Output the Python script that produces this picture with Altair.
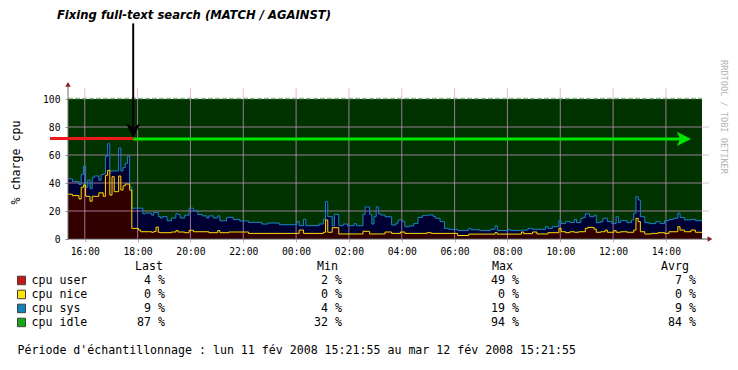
import altair as alt
import pandas as pd

# ---------------- data ----------------
# sampling period: lun 11 fév 2008 15:21:55 -> mar 12 fév 2008 15:21:55 (hours since 11 Feb 00:00)
START = 15 + 21 / 60 + 55 / 3600
END = START + 24

# top of user+nice+sys stack (%), change points in minutes since START
total_min = [0, 10, 25, 30, 35, 40, 45, 50, 55, 60, 70, 75, 80, 85, 90, 95, 115, 120, 125, 130,
             135, 140, 145, 170, 175, 190, 195, 205, 210, 215, 225, 235, 245, 250, 255, 265, 275,
             285, 295, 305, 315, 320, 330, 340, 345, 360, 375, 390, 410, 440, 455, 480, 520, 525,
             535, 540, 570, 580, 585, 590, 600, 605, 615, 625, 635, 650, 655, 670, 675, 685, 690,
             695, 700, 705, 710, 720, 735, 745, 750, 760, 765, 775, 785, 795, 805, 815, 830, 835,
             845, 855, 865, 885, 910, 915, 935, 960, 970, 975, 1000, 1005, 1030, 1045, 1055, 1085,
             1090, 1100, 1115, 1120, 1130, 1140, 1150, 1155, 1165, 1170, 1175, 1185, 1195, 1200,
             1210, 1215, 1225, 1235, 1245, 1250, 1255, 1270, 1280, 1285, 1290, 1295, 1300, 1310,
             1320, 1335, 1345, 1355, 1365, 1375, 1385, 1390, 1400, 1415, 1425]
total_val = [43, 41, 39, 46, 52, 37, 42, 36, 44, 45, 42, 46, 46.5, 59, 68, 48.6, 65, 48.6, 51, 54,
             59, 37, 22, 18, 18.5, 17, 19, 16, 15, 16, 13, 15, 18, 17.5, 15, 17, 22,
             20, 17.5, 16.5, 15, 16.5, 15, 16.5, 13, 15.5, 14, 12.9, 11.9, 10.7, 11.4, 10.2, 12.4, 9.5,
             14, 9.5, 10.7, 14, 26.7, 16, 9.5, 17.6, 9.5, 10.7, 9.5, 11, 9.5, 17.6, 22.9, 17.6, 10.7,
             16, 22.9, 18, 17.1, 15.9, 10, 11.4, 13.6, 12.4, 8.8, 9.3, 11, 15.4, 16.7, 17.1, 15.9, 14.8,
             12.4, 7.6, 6.9, 6, 7.6, 6.6, 6, 6.9, 9.3, 6, 6.9, 6, 6.4, 7.6, 6.9, 8.8,
             7.6, 8.8, 13.1, 11, 12.4, 11.7, 14, 11.7, 14.8, 15.4, 17.9, 15.9, 17, 11.7,
             12.4, 14.8, 12.4, 11, 15.9, 11.7, 13.1, 11.7, 13.6, 18.3, 30.2, 27.9, 15.9, 11.7,
             11, 12.4, 11, 13.1, 14, 14.8, 18.3, 15.4, 13.6, 14, 13.1]

# top of user+nice stack (%)
user_min = [0, 10, 25, 30, 35, 40, 50, 55, 70, 80, 85, 90, 95, 100, 105, 115, 120, 125, 130, 140,
            145, 160, 165, 190, 195, 200, 205, 210, 235, 245, 250, 265, 275, 285, 320, 340, 345,
            365, 410, 525, 535, 580, 585, 590, 600, 615, 670, 685, 720, 735, 755, 765, 815, 825,
            885, 910, 970, 975, 1030, 1035, 1055, 1065, 1090, 1115, 1120, 1130, 1140, 1150, 1160,
            1175, 1180, 1195, 1200, 1210, 1220, 1225, 1240, 1245, 1255, 1270, 1285, 1290, 1295,
            1300, 1310, 1325, 1340, 1355, 1365, 1385, 1390, 1400, 1415, 1425]
user_val = [32, 31, 28.6, 37, 38.6, 30.5, 27, 30.5, 33, 30.5, 45.5, 49, 31.4, 44.5, 33.8, 45, 35, 38, 39.3, 35,
            7.6, 6.4, 5.2, 4.8, 5.4, 8.5, 4.8, 4.5, 5, 6, 5, 4.5, 6.2, 5.2, 4.5, 6, 4.5,
            5, 4, 6.4, 4, 4.8, 13.6, 4.8, 8.1, 3.6, 5.5, 3.6, 5, 4, 5, 4, 4.5, 4,
            2.5, 3.5, 4.5, 3.5, 5, 3.8, 5, 3.6, 4.5, 7.6, 5.2, 4.5, 5.2, 4.8, 5.2,
            7.6, 8.3, 7, 4.8, 5.2, 6.4, 4.8, 6, 4.8, 5.2, 4.8, 6.4, 14.8, 12.4,
            5.2, 3.6, 4, 4.5, 4, 5.2, 8.8, 6.4, 5.2, 6.4, 4.8]

hour_ticks = list(range(16, 39, 2))
y_ticks = [0, 20, 40, 60, 80, 100]

legend_names = ["cpu user", "cpu nice", "cpu sys", "cpu idle"]
legend_colors = ["#c81414", "#ffe400", "#1482be", "#14aa14"]
stat_last = [4, 0, 9, 87]
stat_min = [2, 0, 4, 32]
stat_max = [49, 0, 19, 94]
stat_avg = [7, 0, 9, 84]

annot_title = "Fixing full-text search (MATCH / AGAINST)"
annot_time = 17 + 50 / 60
annot_level = 71.5
footer = "Période d'échantillonnage : lun 11 fév 2008 15:21:55 au mar 12 fév 2008 15:21:55"


def steps(mins, vals):
    t = [START + m / 60 for m in mins] + [END]
    v = list(vals) + [vals[-1]]
    return pd.DataFrame({"t": t, "v": v})


total_df = steps(total_min, total_val)
user_df = steps(user_min, user_val)

# ---------------- layout constants ----------------
OX, OY = 68, 99          # plot origin on page
W, H = 634, 140
MONO = "DejaVu Sans Mono"
FS = 11.6
PX_PER_H = W / 24.0

xs = alt.Scale(domain=[START, END], nice=False, zero=False)
ys = alt.Scale(domain=[0, 100], nice=False)
xaxis = alt.Axis(values=hour_ticks, grid=False, domain=False, ticks=True, tickSize=3,
                 tickColor="#d9a6cc", labelFont=MONO, labelFontSize=9.7, labelColor="#000",
                 labelPadding=4, title=None,
                 labelExpr="(datum.value % 24 < 10 ? '0' : '') + (datum.value % 24) + ':00'")
yaxis = alt.Axis(values=y_ticks, grid=False, domain=False, ticks=True, tickSize=3,
                 tickColor="#909090", labelFont=MONO, labelFontSize=9.7, labelColor="#000",
                 labelPadding=5, title=None)


def X(f):
    return alt.X(f, type="quantitative", scale=xs, axis=xaxis)


def Y(f):
    return alt.Y(f, type="quantitative", scale=ys, axis=yaxis, stack=None)


dummy = pd.DataFrame({"a": [0]})

layers = []

# idle background
layers.append(alt.Chart(pd.DataFrame({"x0": [START], "x1": [END], "y0": [0], "y1": [100]}))
              .mark_rect(color="#003300").encode(x=X("x0"), x2="x1", y=Y("y0"), y2="y1"))
# sys area (navy) and user area (maroon)
layers.append(alt.Chart(total_df).mark_area(interpolate="step-after", color="#000033")
              .encode(x=X("t"), y=Y("v")))
layers.append(alt.Chart(user_df).mark_area(interpolate="step-after", color="#330000")
              .encode(x=X("t"), y=Y("v")))

# grid
vgrid = pd.DataFrame({"h": hour_ticks, "y0": 0, "y1": 108})
layers.append(alt.Chart(vgrid).mark_rule(color="#d9a0cc", opacity=0.7, strokeWidth=1)
              .encode(x=X("h"), y=Y("y0"), y2="y1"))
hgrid = pd.DataFrame({"v": y_ticks[1:-1], "x0": START, "x1": END + 7 / PX_PER_H})
layers.append(alt.Chart(hgrid).mark_rule(color="#d9a0cc", opacity=0.7, strokeWidth=1)
              .encode(y=Y("v"), x=X("x0"), x2="x1"))
# idle line at top (dashed light green)
layers.append(alt.Chart(pd.DataFrame({"x0": [START], "x1": [END], "v": [100.3]}))
              .mark_rule(color="#8fba8f", strokeDash=[5, 2], strokeWidth=1.5)
              .encode(y=Y("v"), x=X("x0"), x2="x1"))

# series lines
layers.append(alt.Chart(total_df).mark_line(interpolate="step-after", color="#1a84c6", strokeWidth=1)
              .encode(x=X("t"), y=Y("v")))
layers.append(alt.Chart(user_df).mark_line(interpolate="step-after", color="#ffdc00", strokeWidth=1)
              .encode(x=X("t"), y=Y("v")))

# axes lines with arrows
layers.append(alt.Chart(pd.DataFrame({"x0": [START], "x1": [END + 8 / PX_PER_H], "v": [0]}))
              .mark_rule(color="#505050", strokeWidth=1).encode(y=Y("v"), x=X("x0"), x2="x1"))
layers.append(alt.Chart(pd.DataFrame({"h": [START], "y0": [0], "y1": [109]}))
              .mark_rule(color="#707070", strokeWidth=1).encode(x=X("h"), y=Y("y0"), y2="y1"))
layers.append(alt.Chart(pd.DataFrame({"h": [START], "v": [110.5]}))
              .mark_point(shape="triangle-up", filled=True, size=30, color="#802020", opacity=1)
              .encode(x=X("h"), y=Y("v")))
layers.append(alt.Chart(pd.DataFrame({"h": [END + 8 / PX_PER_H], "v": [0]}))
              .mark_point(shape="triangle-right", filled=True, size=30, color="#802020", opacity=1)
              .encode(x=X("h"), y=Y("v")))

# annotation: red before, green after, black arrow
layers.append(alt.Chart(pd.DataFrame({"x0": [START - 18 / PX_PER_H], "x1": [annot_time], "v": [annot_level + 0.3]}))
              .mark_rule(color="#ee1a1a", strokeWidth=3).encode(y=Y("v"), x=X("x0"), x2="x1"))
green_end = END - 18 / PX_PER_H
layers.append(alt.Chart(pd.DataFrame({"x0": [annot_time], "x1": [green_end], "v": [annot_level]}))
              .mark_rule(color="#00e600", strokeWidth=3).encode(y=Y("v"), x=X("x0"), x2="x1"))
layers.append(alt.Chart(pd.DataFrame({"h": [green_end], "v": [annot_level]}))
              .mark_point(shape="M -1 -1 L 1 0 L -1 1 L -0.55 0 Z", filled=True, size=200,
                          color="#00e600", opacity=1)
              .encode(x=X("h"), y=Y("v")))
layers.append(alt.Chart(pd.DataFrame({"h": [annot_time], "y0": [154], "y1": [80]}))
              .mark_rule(color="#000000", strokeWidth=2).encode(x=X("h"), y=Y("y0"), y2="y1"))
layers.append(alt.Chart(pd.DataFrame({"h": [annot_time], "v": [77.5]}))
              .mark_point(shape="M -1 -1 L 0 -0.45 L 1 -1 L 0 1 Z", filled=True, size=210,
                          color="#000000", opacity=1)
              .encode(x=X("h"), y=Y("v")))


def txt(s, px, py, size=FS, align="left", font=MONO, color="#000", angle=0, weight="normal",
        style="normal"):
    kw = dict(text=s, font=font, fontSize=size, align=align, baseline="middle", color=color,
              fontWeight=weight, fontStyle=style)
    if angle:
        kw["angle"] = angle
    return alt.Chart(dummy).mark_text(**kw).encode(x=alt.value(px - OX), y=alt.value(py - OY))


# title / y title / watermark
layers.append(txt(annot_title, 194, 16, size=11.6, align="center", font="DejaVu Sans",
                  weight="bold", style="italic"))
layers.append(txt("% charge cpu", 17, 162.5, angle=270, align="center"))
layers.append(txt("RRDTOOL / TOBI OETIKER", 724, 117, size=8.6, angle=90, align="center",
                  color="#b4b4b4"))

# legend table
headers = [("Last", 163), ("Min", 338), ("Max", 513), ("Avrg", 689)]
for h, xr in headers:
    layers.append(txt(h, xr, 266.7, align="right"))
value_right = [165, 342, 519, 696]
stats = [stat_last, stat_min, stat_max, stat_avg]
for i, name in enumerate(legend_names):
    yc = 280.7 + 14 * i
    layers.append(alt.Chart(dummy).mark_rect(color=legend_colors[i], stroke="#404040", strokeWidth=1)
                  .encode(x=alt.value(17.5 - OX), x2=alt.value(25.5 - OX),
                          y=alt.value(yc - 4.5 - OY), y2=alt.value(yc + 4 - OY)))
    layers.append(txt(name, 31.5, yc))
    for col, xr in zip(stats, value_right):
        layers.append(txt(f"{col[i]} %", xr, yc, align="right"))

layers.append(txt(footer, 17.5, 350.7))

chart = alt.layer(*layers).properties(
    width=W, height=H,
    autosize=alt.AutoSizeParams(type="none"),
    padding={"left": OX - 8, "top": OY - 8, "right": 722 - (OX - 8) - W, "bottom": 354 - (OY - 8) - H},
    background="#ffffff",
).configure_view(stroke=None)

chart.save("out.html", embed_options={"renderer": "svg", "actions": False})
